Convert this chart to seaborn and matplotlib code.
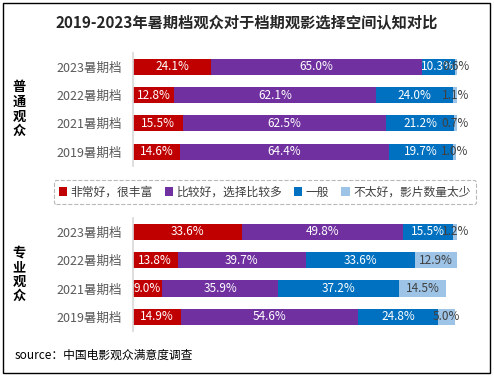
import numpy as np
import pandas as pd
from matplotlib import pyplot as plt
from matplotlib.patches import Rectangle, Patch
import seaborn as sns

sns.set_theme(style="white")
plt.rcParams['font.family'] = ['Noto Sans CJK SC', 'DejaVu Sans']

# data
years = ["2023暑期档", "2022暑期档", "2021暑期档", "2019暑期档"]
levels = ["非常好，很丰富", "比较好，选择比较多", "一般", "不太好，影片数量太少"]
colors = ["#C00000", "#7030A0", "#0070C0", "#9DC3E6"]
text_colors = ["white", "white", "white", "#404040"]

general_very_good = [24.1, 12.8, 15.5, 14.6]
general_good = [65.0, 62.1, 62.5, 64.4]
general_normal = [10.3, 24.0, 21.2, 19.7]
general_bad = [0.6, 1.1, 0.7, 1.0]

pro_very_good = [33.6, 13.8, 9.0, 14.9]
pro_good = [49.8, 39.7, 35.9, 54.6]
pro_normal = [15.5, 33.6, 37.2, 24.8]
pro_bad = [1.2, 12.9, 14.5, 5.0]

fig = plt.figure(figsize=(4.94, 3.76), dpi=100)


def stacked(ax, parts, group_label):
    df = pd.DataFrame(np.array(parts).T, columns=levels)
    df["year"] = years
    cum = df[levels].cumsum(axis=1)
    # draw cumulative totals, longest first
    for i in range(len(levels) - 1, -1, -1):
        sns.barplot(x=cum[levels[i]], y=df["year"], orient="h", color=colors[i],
                    width=0.57, linewidth=0, saturation=1, ax=ax)
    for i, lv in enumerate(levels):
        for j in range(len(years)):
            v = df[lv][j]
            mid = cum[lv][j] - v / 2
            ax.text(mid, j, f"{v:.1f}%", ha="center", va="center",
                    fontsize=8.5, color=text_colors[i])
    ax.set_xlim(0, 100)
    ax.set_ylim(3.5, -0.5)
    ax.set_xlabel("")
    ax.set_ylabel("")
    ax.set_xticks([])
    ax.tick_params(axis="y", length=0, pad=8, labelsize=9, labelcolor="#595959")
    for s in ["top", "right", "bottom"]:
        ax.spines[s].set_visible(False)
    ax.spines["left"].set_color("#D9D9D9")
    ax.text(-0.35, 0.5, "\n".join(group_label), transform=ax.transAxes,
            ha="center", va="center", fontsize=9.5, fontweight="bold",
            linespacing=1.05, color="black")


ax1 = fig.add_axes([0.269, 0.559, 0.656, 0.301])
stacked(ax1, [general_very_good, general_good, general_normal, general_bad], "普通观众")

ax2 = fig.add_axes([0.269, 0.120, 0.656, 0.301])
stacked(ax2, [pro_very_good, pro_good, pro_normal, pro_bad], "专业观众")

fig.text(0.5, 0.94, "2019-2023年暑期档观众对于档期观影选择空间认知对比",
         ha="center", va="center", fontsize=11, fontweight="bold")

handles = [Patch(facecolor=c, edgecolor="none") for c in colors]
leg = fig.legend(handles, levels, loc="center", bbox_to_anchor=(0.536, 0.489),
                 ncol=4, fontsize=8.5, frameon=True, handlelength=0.7,
                 handleheight=0.7, handletextpad=0.3, columnspacing=1.0,
                 borderpad=0.45, fancybox=True)
leg.get_frame().set_linestyle("--")
leg.get_frame().set_edgecolor("#A6A6A6")
leg.get_frame().set_linewidth(0.8)
for t in leg.get_texts():
    t.set_color("#404040")

fig.text(0.03, 0.056, "source：中国电影观众满意度调查", ha="left", va="center",
         fontsize=8.5, color="black")

fig.add_artist(Rectangle((0.006, 0.008), 0.986, 0.984, transform=fig.transFigure,
                         fill=False, edgecolor="black", linewidth=1))

fig.savefig("out.png", dpi=100)
